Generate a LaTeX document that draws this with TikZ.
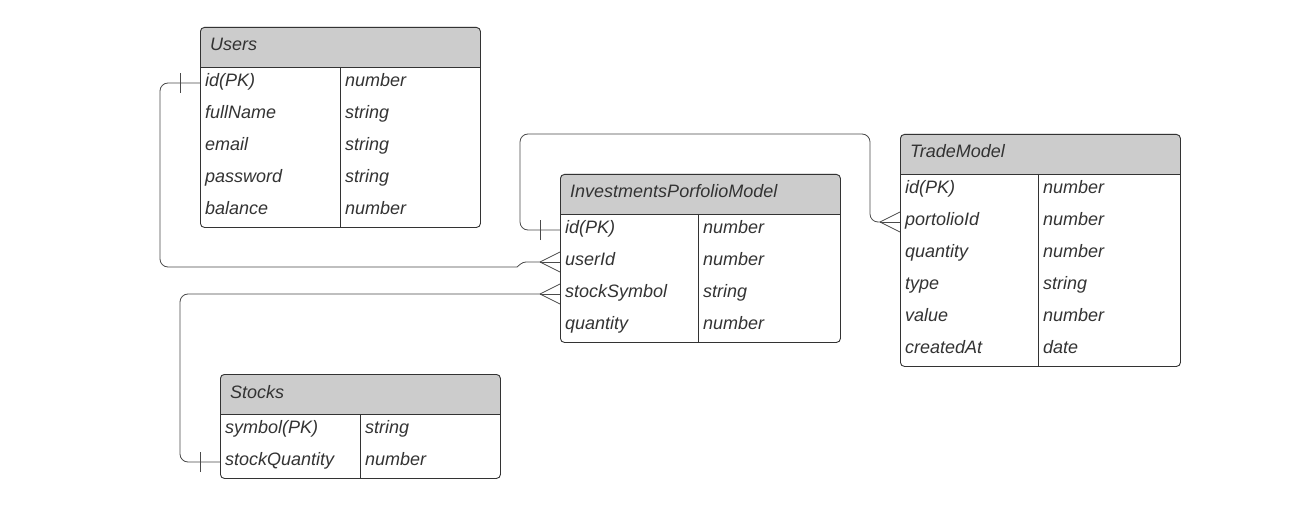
\documentclass[tikz,border=0pt]{standalone}
\usepackage{fontspec}
\setmainfont{Liberation Sans}
\definecolor{hdrgray}{HTML}{CCCCCC}
\definecolor{linegray}{HTML}{333333}
\definecolor{conngray}{HTML}{4A4A4A}
\definecolor{txtgray}{HTML}{333333}
\tikzset{
  tblbox/.style={draw=linegray, line width=0.9pt, rounded corners=4pt, inner sep=0pt, minimum width=280pt},
  hdrfill/.style={fill=hdrgray},
  celltxt/.style={font=\itshape\fontsize{18}{20}\selectfont, text=txtgray, inner sep=0pt, anchor=base west},
  conn/.style={draw=conngray, line width=0.8pt, rounded corners=8pt},
  foot/.style={draw=conngray, line width=0.8pt},
}
% #1 name, #2 x, #3 y, #4 nrows, #5 title, #6 divider offset
\newcommand{\ertable}[6]{%
  \fill[hdrfill] (#2,#3+40) [rounded corners=4pt] -- (#2,#3) -- (#2+280,#3) [sharp corners] -- (#2+280,#3+40) -- cycle;
  \node[tblbox, minimum height=40pt+32pt*#4, anchor=north west] (#1) at (#2,#3) {};
  \draw[linegray, line width=0.9pt] (#2,#3+40) -- (#2+280,#3+40);
  \draw[linegray, line width=0.9pt] (#2+#6,#3+40) -- (#2+#6,#3+40+32*#4);
  \node[celltxt] (#1-title) at (#2+10,#3+24) {#5};
  \foreach \i in {1,...,#4} {
    \coordinate (#1-r\i) at (#2,#3+40+16+32*\i-32);
  }
}
% #1 table, #2 row index, #3 field, #4 type, #5 type offset
\newcommand{\errow}[5]{%
  \path (#1-r#2) ++(5,3.5) node[celltxt] (#1-f#2) {#3};
  \path (#1-r#2) ++(#5,3.5) node[celltxt] (#1-t#2) {#4};
}
\begin{document}
\begin{tikzpicture}[x=1pt,y=-1pt]
\useasboundingbox (0,0) rectangle (1306,505);
\fill[white] (0,0) rectangle (1306,505);

% Users
\ertable{users}{200}{27}{5}{Users}{140}
\errow{users}{1}{id(PK)}{number}{145}
\errow{users}{2}{fullName}{string}{145}
\errow{users}{3}{email}{string}{145}
\errow{users}{4}{password}{string}{145}
\errow{users}{5}{balance}{number}{145}

% InvestmentsPorfolioModel
\ertable{ipm}{560}{174}{4}{InvestmentsPorfolioModel}{138}
\errow{ipm}{1}{id(PK)}{number}{143}
\errow{ipm}{2}{userId}{number}{143}
\errow{ipm}{3}{stockSymbol}{string}{143}
\errow{ipm}{4}{quantity}{number}{143}

% TradeModel
\ertable{trade}{900}{134}{6}{TradeModel}{138}
\errow{trade}{1}{id(PK)}{number}{143}
\errow{trade}{2}{portolioId}{number}{143}
\errow{trade}{3}{quantity}{number}{143}
\errow{trade}{4}{type}{string}{143}
\errow{trade}{5}{value}{number}{143}
\errow{trade}{6}{createdAt}{date}{143}

% Stocks
\ertable{stocks}{220}{374}{2}{Stocks}{140}
\errow{stocks}{1}{symbol(PK)}{string}{145}
\errow{stocks}{2}{stockQuantity}{number}{145}

% helper coordinates
\coordinate (c1a) at (160,83);
\coordinate (c1b) at (160,267);
\coordinate (c1c) at (517,267);
\coordinate (c1d) at (523,262);
\coordinate (c1e) at (540,262);

\coordinate (c2a) at (520,230);
\coordinate (c2b) at (520,134);
\coordinate (c2c) at (870,134);
\coordinate (c2d) at (870,222);
\coordinate (c2e) at (880,222);

\coordinate (c3a) at (540,294);
\coordinate (c3b) at (180,294);
\coordinate (c3c) at (180,462);

% Users.id -> IPM.userId
\draw[conn] (users-r1) -- (c1a) -- (c1b) -- (c1c);
\draw[conn, rounded corners=3pt] (c1c) -- (c1d) -- (c1e);
\draw[foot] (c1e) -- (ipm-r2);
\draw[foot] (c1e) -- ([yshift=-10pt]ipm-r2);
\draw[foot] (c1e) -- ([yshift=10pt]ipm-r2);
\draw[foot] ([xshift=-20pt,yshift=-10pt]users-r1) -- ([xshift=-20pt,yshift=10pt]users-r1);

% IPM.id -> Trade.portolioId
\draw[conn] (ipm-r1) -- (c2a) -- (c2b) -- (c2c) -- (c2d) -- (c2e);
\draw[foot] (c2e) -- (trade-r2);
\draw[foot] (c2e) -- ([yshift=-10pt]trade-r2);
\draw[foot] (c2e) -- ([yshift=10pt]trade-r2);
\draw[foot] ([xshift=-20pt,yshift=-10pt]ipm-r1) -- ([xshift=-20pt,yshift=10pt]ipm-r1);

% Stocks.stockQuantity -> IPM.stockSymbol
\draw[conn] (c3a) -- (c3b) -- (c3c) -- (stocks-r2);
\draw[foot] (c3a) -- (ipm-r3);
\draw[foot] (c3a) -- ([yshift=-10pt]ipm-r3);
\draw[foot] (c3a) -- ([yshift=10pt]ipm-r3);
\draw[foot] ([xshift=-20pt,yshift=-10pt]stocks-r2) -- ([xshift=-20pt,yshift=10pt]stocks-r2);
\end{tikzpicture}
\end{document}
